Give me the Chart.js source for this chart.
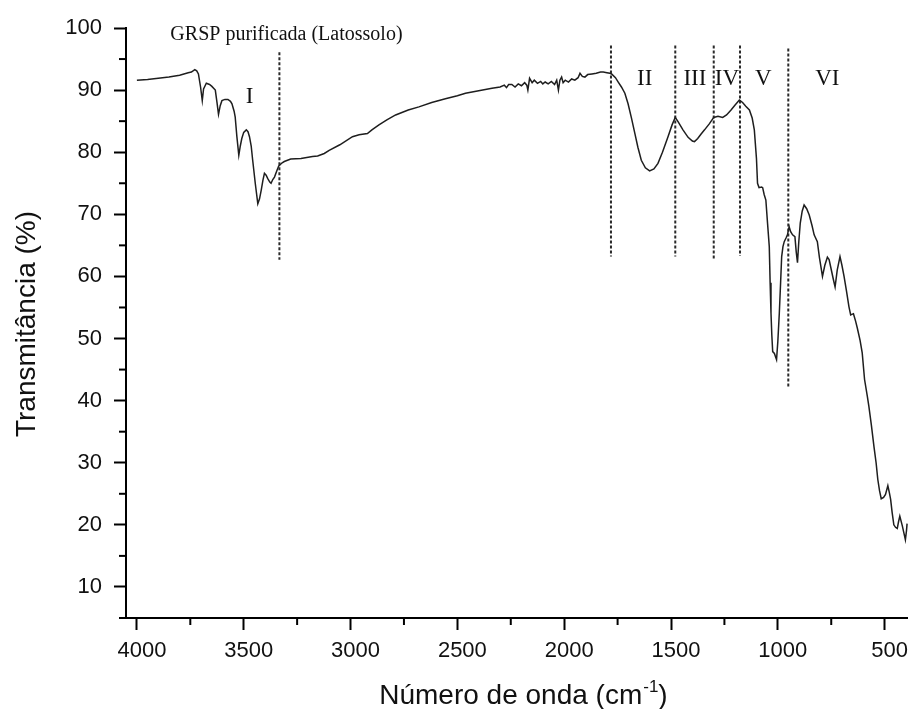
<!DOCTYPE html>
<html>
<head>
<meta charset="utf-8">
<script src="https://cdn.jsdelivr.net/npm/chart.js@4"></script>
<style>
html,body{margin:0;padding:0;background:#fff;}
canvas{display:block;}
</style>
</head>
<body>
<canvas id="c" width="911" height="709"></canvas>
<script>
// ---- data ----
const wavenumber = [
 4000,3950,3900,3850,3800,3760,3745,3729,3720,3712,3702,3694,3688,3675,3660,3649,3633,3625,3618,3610,
 3602,3588,3574,3562,3555,3545,3540,3532,3523,3516,3509,3500,3488,3480,3473,3465,3458,3446,3434,3426,
 3418,3410,3403,3395,3388,3378,3372,3364,3356,3345,3336,3320,3310,3280,3232,3178,3154,3123,3100,3050,
 2991,2960,2921,2900,2867,2830,2789,2730,2680,2620,2556,2500,2462,2400,2338,2300,2280,2270,2260,2245,
 2230,2215,2200,2185,2175,2170,2162,2150,2140,2125,2110,2100,2089,2075,2060,2045,2035,2030,2027,2020,
 2012,2005,1995,1980,1965,1950,1935,1926,1915,1903,1890,1870,1850,1830,1817,1800,1786,1778,1760,1747,
 1732,1716,1701,1685,1669,1655,1639,1620,1600,1580,1561,1540,1514,1495,1480,1465,1444,1420,1400,1390,
 1375,1360,1343,1320,1300,1280,1258,1240,1219,1200,1180,1165,1150,1133,1120,1110,1100,1095,1088,1076,
 1071,1064,1056,1048,1040,1036,1032,1028,1024,1016,1010,1006,1000,993,987,982,976,970,960,955,
 947,940,931,920,914,908,902,895,886,877,865,853,840,830,815,805,791,780,768,760,
 753,740,732,722,709,700,690,678,667,659,646,636,628,615,605,594,581,574,562,550,
 540,532,524,516,505,496,485,478,472,465,457,449,441,435,429,423,417,410,403,398,395
];
const transmittance = [
 91.6,91.7,91.9,92.1,92.4,92.8,92.9,93.3,93.1,92.6,90.5,88.3,90.2,91.1,90.9,90.6,90.0,88.0,86.1,87.5,
 88.3,88.5,88.5,88.2,87.8,86.6,85.7,82.5,79.5,81.0,82.2,83.2,83.6,83.3,82.5,81.0,78.7,75.0,71.7,72.5,
 73.9,75.5,76.6,76.3,75.8,75.2,75.0,75.6,76.0,77.0,77.8,78.3,78.5,78.9,79.0,79.3,79.4,79.8,80.3,81.2,
 82.5,82.8,83.0,83.6,84.4,85.2,86.0,86.8,87.3,88.0,88.6,89.1,89.5,89.9,90.3,90.5,90.8,90.4,90.9,90.9,
 90.5,91.0,90.7,91.2,90.8,90.0,91.9,91.2,91.6,91.1,91.4,91.0,91.3,91.0,91.4,90.9,91.6,90.6,90.0,91.6,
 92.1,91.2,91.6,91.3,91.8,91.6,92.0,92.7,92.2,92.1,92.5,92.6,92.7,92.9,92.9,92.8,92.7,92.6,92.0,91.3,
 90.5,89.5,87.8,85.5,83.0,80.8,78.7,77.5,77.0,77.3,78.2,80.0,82.5,84.4,85.6,84.8,83.6,82.4,81.8,81.7,
 82.2,82.9,83.6,84.6,85.6,85.8,85.6,86.0,86.8,87.6,88.4,88.0,87.4,86.8,85.5,83.6,79.0,75.0,74.3,74.4,
 74.3,73.2,72.3,68.5,64.8,59.0,54.1,50.5,47.9,47.6,47.0,46.6,49.5,54.1,59.0,63.2,64.8,65.6,66.3,66.7,
 68.0,67.2,66.7,66.4,64.0,62.2,65.5,68.6,70.5,71.5,70.9,69.9,68.2,66.7,65.6,63.0,60.0,61.8,63.1,62.7,
 61.6,59.5,58.3,61.0,63.2,61.8,60.0,57.5,55.1,53.8,54.0,52.8,51.7,49.7,47.7,43.4,40.7,39.1,36.0,32.6,
 30.0,27.3,25.5,24.2,24.4,24.9,26.3,25.2,24.1,22.0,20.0,19.6,19.4,20.5,21.4,20.6,19.8,18.7,17.6,19.0,20.2
];
const xTickValues = [4000, 3500, 3000, 2500, 2000, 1500, 1000, 500];
const xMinorTicks = [3750, 3250, 2750, 2250, 1750, 1250, 750];
const yTickValues = [10, 20, 30, 40, 50, 60, 70, 80, 90, 100];
const yMinorTicks = [5, 15, 25, 35, 45, 55, 65, 75, 85, 95];
const dividerWn = [3333, 1781, 1480, 1300, 1177, 951];
const dividerTop = [96.1, 97.2, 97.2, 97.2, 97.2, 96.7];
const dividerBottom = [62.7, 63.2, 63.2, 62.8, 63.3, 42.0];
const bandLabels = ['I', 'II', 'III', 'IV', 'V', 'VI'];
const bandLabelWn = [3473, 1623, 1388, 1238, 1068, 768];
const bandLabelT = [87.9, 90.8, 90.8, 90.8, 90.8, 90.8];
const sampleTitle = 'GRSP purificada (Latossolo)';
const sampleTitleWn = 3300;
const sampleTitleT = 98.1;
const xTitleMain = 'Número de onda (cm';
const xTitleSup = '-1';
const xTitleEnd = ')';
const yTitle = 'Transmitância (%)';

// ---- chart ----
const SANS = "'Liberation Sans', Arial, sans-serif";
const SERIF = "'Liberation Serif', 'Times New Roman', serif";

const datasets = [{
  data: wavenumber.map((x, i) => ({x: x, y: transmittance[i]})),
  borderColor: '#1e1e1e',
  borderWidth: 1.5,
  pointRadius: 0,
  tension: 0,
  fill: false
}];
dividerWn.forEach((w, i) => {
  datasets.push({
    data: [{x: w, y: dividerTop[i]}, {x: w, y: dividerBottom[i]}],
    borderColor: '#2a2a2a',
    borderWidth: 2,
    borderDash: [3, 2],
    pointRadius: 0,
    fill: false
  });
});

const overlay = {
  id: 'overlay',
  beforeDraw(chart) {
    const c = chart.ctx;
    c.save();
    c.fillStyle = '#fff';
    c.fillRect(0, 0, chart.width, chart.height);
    c.restore();
  },
  afterDraw(chart) {
    const c = chart.ctx;
    const xs = chart.scales.x, ys = chart.scales.y;
    const a = chart.chartArea;
    c.save();
    // minor ticks
    c.strokeStyle = '#000';
    c.lineWidth = 2;
    yMinorTicks.forEach(v => {
      const py = ys.getPixelForValue(v);
      c.beginPath(); c.moveTo(a.left - 7, py); c.lineTo(a.left, py); c.stroke();
    });
    xMinorTicks.forEach(v => {
      const px = xs.getPixelForValue(v);
      c.beginPath(); c.moveTo(px, a.bottom); c.lineTo(px, a.bottom + 7); c.stroke();
    });
    // band labels
    c.fillStyle = '#111';
    c.textAlign = 'center';
    c.textBaseline = 'alphabetic';
    c.font = '23px ' + SERIF;
    bandLabels.forEach((t, i) => {
      c.fillText(t, xs.getPixelForValue(bandLabelWn[i]), ys.getPixelForValue(bandLabelT[i]));
    });
    c.font = '20px ' + SERIF;
    c.fillText(sampleTitle, xs.getPixelForValue(sampleTitleWn), ys.getPixelForValue(sampleTitleT));
    // x axis title with superscript
    c.font = '28px ' + SANS;
    const w1 = c.measureText(xTitleMain).width;
    const w3 = c.measureText(xTitleEnd).width;
    c.font = '17px ' + SANS;
    const w2 = c.measureText(xTitleSup).width;
    const cx = (a.left + a.right) / 2 + 6;
    let x0 = cx - (w1 + w2 + w3) / 2;
    const base = chart.height - 5;
    c.textAlign = 'left';
    c.font = '28px ' + SANS;
    c.fillText(xTitleMain, x0, base);
    c.font = '17px ' + SANS;
    c.fillText(xTitleSup, x0 + w1 + 1, base - 12);
    c.font = '28px ' + SANS;
    c.fillText(xTitleEnd, x0 + w1 + w2 + 1, base);
    // y axis title
    c.translate(27, (a.top + a.bottom) / 2 + 1);
    c.rotate(-Math.PI / 2);
    c.textAlign = 'center';
    c.textBaseline = 'middle';
    c.font = '28px ' + SANS;
    c.fillText(yTitle, 0, 0);
    c.restore();
  }
};

new Chart(document.getElementById('c'), {
  type: 'line',
  data: {datasets: datasets},
  plugins: [overlay],
  options: {
    responsive: false,
    devicePixelRatio: 1,
    animation: false,
    layout: {padding: {top: 28, right: 0, bottom: 0, left: 0}},
    plugins: {legend: {display: false}, tooltip: {enabled: false}},
    scales: {
      x: {
        type: 'linear',
        reverse: true,
        min: 391,
        max: 4051,
        afterBuildTicks: s => { s.ticks = xTickValues.map(v => ({value: v})); },
        afterFit: s => { s.height = 91; },
        border: {display: true, color: '#000', width: 2},
        grid: {drawOnChartArea: false, drawTicks: true, tickLength: 12, tickWidth: 2, tickColor: '#000', color: '#000'},
        ticks: {autoSkip: false, maxRotation: 0, padding: 8, labelOffset: 5, color: '#111',
                font: {family: SANS, size: 22}, callback: v => String(v)}
      },
      y: {
        type: 'linear',
        min: 5,
        max: 100,
        afterBuildTicks: s => { s.ticks = yTickValues.map(v => ({value: v})); },
        afterFit: s => { s.width = 126; },
        border: {display: true, color: '#000', width: 2},
        grid: {drawOnChartArea: false, drawTicks: true, tickLength: 12, tickWidth: 2, tickColor: '#000', color: '#000'},
        ticks: {autoSkip: false, padding: 12, color: '#111',
                font: {family: SANS, size: 22}, callback: v => String(v)}
      }
    }
  }
});
</script>
</body>
</html>
